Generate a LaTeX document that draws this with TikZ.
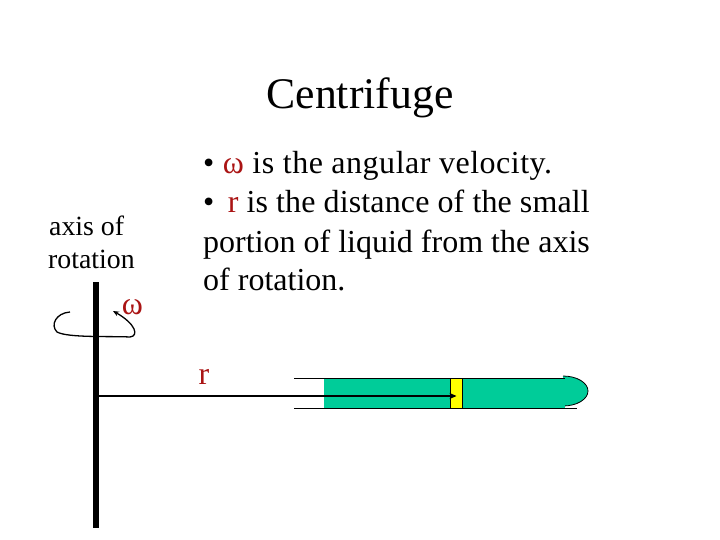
\documentclass[tikz,border=0pt]{standalone}
\usepackage{fontspec}
\setmainfont{Liberation Serif}
\usetikzlibrary{arrows.meta,positioning,calc}
\definecolor{liquidgreen}{RGB}{0,204,153}
\definecolor{sliceyellow}{RGB}{255,255,0}
\definecolor{labelred}{RGB}{170,20,20}

\begin{document}
\begin{tikzpicture}[x=1pt,y=-1pt,
    label/.style={anchor=base west, inner sep=0pt, font=\fontsize{27.8}{27.8}\selectfont},
    bodytext/.style={anchor=base west, inner sep=0pt, font=\fontsize{32}{32}\selectfont},
    redsym/.style={text=labelred}]
    \useasboundingbox (0,0) rectangle (720,540);

    \node[anchor=base, inner sep=0pt, font=\fontsize{43.7}{43.7}\selectfont] (title) at (360,109) {Centrifuge};

    % text on the right
    \node[bodytext] (lineone) at (203,174) {\addfontfeature{LetterSpace=1.6}• \textcolor{labelred}{ω} is the angular velocity.};
    \node[bodytext] (linetwo) at (203,213) {\addfontfeature{LetterSpace=0.4}•\, \textcolor{labelred}{r} is the distance of the small};
    \node[bodytext] (linethree) at (203,252) {portion of liquid from the axis};
    \node[bodytext] (linefour) at (203,290) {of rotation.};

    % axis
    \node[label] (axisone) at (49,236) {axis of};
    \node[label] (axistwo) at (48,268) {rotation};
    \coordinate (axistop) at (96,282);
    \coordinate (axisbot) at (96,528);
    \draw[line width=6pt] (axistop) -- (axisbot);
    \node[bodytext, redsym, anchor=base] (omega) at (132.5,314) {ω};
    \node[bodytext, redsym, anchor=base] (rlabel) at (204,384) {r};

    % tube
    \fill[liquidgreen] (563,376) arc[start angle=-90, end angle=90, x radius=25, y radius=15] -- cycle;
    \draw[thick] (563,376) arc[start angle=-90, end angle=90, x radius=25, y radius=15];
    \fill[liquidgreen] (324,378) rectangle (565,408);
    \node[draw, thick, fill=sliceyellow, inner sep=0pt, minimum width=12pt, minimum height=30pt] (slice) at (456.5,393) {};
    \coordinate (topleft) at (294,378);
    \coordinate (topright) at (565,378);
    \coordinate (botleft) at (294,408);
    \coordinate (botright) at (577,408);
    \draw[semithick] (topleft) -- (topright);
    \draw[semithick] (botleft) -- (botright);

    % radius and rotation
    \coordinate (rstart) at (98,396);
    \draw[-{Stealth[length=7pt,width=6pt]}, line width=1.3pt] (rstart) -- (rstart -| slice.center);
    \coordinate (rotstart) at (70,312);
    \coordinate (rotend) at (113,311);
    \draw[-{Stealth[length=6pt,width=5pt]}, line width=1.3pt] (rotstart)
        .. controls (56,313) and (50,325) .. (57,332)
        .. controls (68,338) and (110,336) .. (130,337)
        .. controls (139,336) and (136,324) .. (rotend);
\end{tikzpicture}
\end{document}
